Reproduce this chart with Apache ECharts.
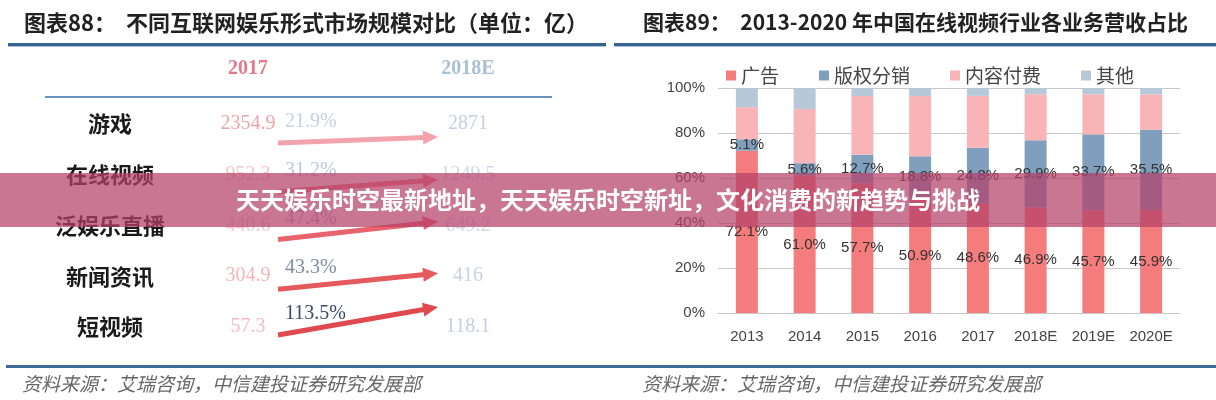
<!DOCTYPE html>
<html><head><meta charset="utf-8">
<script src="https://cdn.jsdelivr.net/npm/echarts@6/dist/echarts.min.js"></script>
<style>html,body{margin:0;padding:0;background:#fff}#c{width:1216px;height:400px}</style>
</head><body><div id="c"></div>
<script>
// ---- data: left table ----
const ROWS = ['游戏', '在线视频', '泛娱乐直播', '新闻资讯', '短视频'];
const V2017 = [2354.9, 952.3, 440.6, 304.9, 57.3];
const V2018E = [2871, 1249.5, 649.2, 416, 118.1];
const GROWTH = [21.9, 31.2, 47.4, 43.3, 113.5];
const TABLE_COLS = ['2017', '', '2018E'];
// ---- data: right chart ----
const YEARS = ['2013', '2014', '2015', '2016', '2017', '2018E', '2019E', '2020E'];
const AD = [72.1, 61.0, 57.7, 50.9, 48.6, 46.9, 45.7, 45.9];
const COPYRIGHT = [5.1, 5.6, 12.7, 18.8, 24.8, 29.9, 33.7, 35.5];
const PAID = [14.3, 24.1, 26.0, 26.7, 23.1, 20.4, 17.8, 15.8];
const OTHER = [8.5, 9.3, 3.6, 3.6, 3.5, 2.8, 2.8, 2.8];
const SERIES_NAMES = ['广告', '版权分销', '内容付费', '其他'];
const Y_TICKS = [0, 20, 40, 60, 80, 100];

// ---- styles ----
const CJK = '"Noto Sans CJK SC", sans-serif';
const SERIF = '"Liberation Serif", "DejaVu Serif", serif';
const SANS = '"Liberation Sans", sans-serif';
const C2017 = ['#e98d97', '#f2b4bb', '#f2bac1', '#eea3ab', '#f0abb3'];
const C2018 = ['#b3c4d8', '#c3d0e0', '#c3d0e0', '#b9c8da', '#b3c4d8'];
const CGROW = ['#c5d1e2', '#bcc8da', '#a9b6ca', '#7d8da6', '#3b4a66'];
const CARROW = ['#f2a3ad', '#ec7a83', '#e8636b', '#e55a5e', '#e04a4e'];
const ARROW_DROP = [19, 17, 14, 13, 8];
const ARROW_RISE = [6, 12, 18, 16, 28];
const BAR_COLORS = ['#f47c7c', '#7f9fbd', '#f8b4b6', '#b7c9d8'];

const chart = echarts.init(document.getElementById('c'));

function arrowItem(params, api) {
  const i = api.value(1);
  const a = api.coord([0, i]);
  const b = api.coord([2, i]);
  const x1 = a[0] + 30, y1 = a[1] + ARROW_DROP[i];
  const x2 = b[0] - 30, y2 = y1 - ARROW_RISE[i];
  const dx = x2 - x1, dy = y2 - y1, L = Math.sqrt(dx * dx + dy * dy);
  const ux = dx / L, uy = dy / L, nx = -uy, ny = ux;
  const hl = 15, hw = 7;
  const bx = x2 - ux * hl, by = y2 - uy * hl;
  return {
    type: 'group',
    children: [
      { type: 'line', shape: { x1: x1, y1: y1, x2: bx + ux * 2, y2: by + uy * 2 },
        style: { stroke: CARROW[i], lineWidth: 5 } },
      { type: 'polygon', shape: { points: [[x2, y2], [bx + nx * hw, by + ny * hw], [bx - nx * hw, by - ny * hw]] },
        style: { fill: CARROW[i] } },
      { type: 'text', style: { text: GROWTH[i].toFixed(1) + '%', x: x1 + 7, y: y1 - 21,
        fill: CGROW[i], fontSize: 20, fontFamily: SERIF, align: 'left', verticalAlign: 'middle' } }
    ]
  };
}

const option = {
  animation: false,
  backgroundColor: '#fff',
  title: [
    { text: '图表88：  不同互联网娱乐形式市场规模对比（单位：亿）', left: 19, top: 7,
      textStyle: { fontSize: 22, fontWeight: 'bold', color: '#222', fontFamily: CJK } },
    { text: '图表89：  2013-2020 年中国在线视频行业各业务营收占比', left: 638, top: 7,
      textStyle: { fontSize: 21, fontWeight: 'bold', color: '#222', fontFamily: CJK } }
  ],
  legend: {
    data: SERIES_NAMES, left: 721, top: 61, icon: 'rect', itemWidth: 10, itemHeight: 10, itemGap: 40,
    textStyle: { fontSize: 19, color: '#444', fontFamily: CJK }
  },
  grid: [
    { left: 248, width: 220, top: 98.6, height: 253.75 },
    { left: 718, right: 36, top: 88, bottom: 87 }
  ],
  xAxis: [
    { gridIndex: 0, type: 'value', min: 0, max: 2, interval: 1, position: 'top',
      axisLine: { show: false }, axisTick: { show: false }, splitLine: { show: false },
      axisLabel: { margin: 20, showMinLabel: true, showMaxLabel: true,
        formatter: v => v === 0 ? '{a|' + TABLE_COLS[0] + '}' : (v === 2 ? '{b|' + TABLE_COLS[2] + '}' : ''),
        rich: {
          a: { fontSize: 20, fontWeight: 'bold', color: '#e27a88', fontFamily: SERIF },
          b: { fontSize: 20, fontWeight: 'bold', color: '#a9bfd6', fontFamily: SERIF }
        } } },
    { gridIndex: 1, type: 'category', data: YEARS,
      axisLine: { lineStyle: { color: '#c8c8c8' } }, axisTick: { show: false },
      axisLabel: { fontSize: 15, color: '#444', margin: 16, fontFamily: SANS } }
  ],
  yAxis: [
    { gridIndex: 0, type: 'category', data: ROWS, inverse: true,
      axisLine: { show: false }, axisTick: { show: false }, splitLine: { show: false },
      axisLabel: { align: 'center', margin: 138, fontSize: 22, fontWeight: 'bold', color: '#1a1a1a', fontFamily: CJK } },
    { gridIndex: 1, type: 'value', min: Y_TICKS[0], max: Y_TICKS[Y_TICKS.length - 1], interval: 20,
      axisLine: { show: false }, axisTick: { show: false },
      splitLine: { lineStyle: { color: '#c8c8c8' } },
      axisLabel: { fontSize: 15, color: '#444', margin: 13, formatter: '{value}%', fontFamily: SANS } }
  ],
  series: [
    { type: 'scatter', xAxisIndex: 0, yAxisIndex: 0, symbolSize: 1, itemStyle: { color: 'rgba(0,0,0,0)' }, silent: true,
      data: V2017.map((v, i) => ({ value: [0, i], label: { color: C2017[i] } })),
      label: { show: true, position: 'inside', fontSize: 20, fontFamily: SERIF,
        formatter: p => String(V2017[p.dataIndex]) } },
    { type: 'scatter', xAxisIndex: 0, yAxisIndex: 0, symbolSize: 1, itemStyle: { color: 'rgba(0,0,0,0)' }, silent: true,
      data: V2018E.map((v, i) => ({ value: [2, i], label: { color: C2018[i] } })),
      label: { show: true, position: 'inside', fontSize: 20, fontFamily: SERIF,
        formatter: p => String(V2018E[p.dataIndex]) } },
    { type: 'custom', xAxisIndex: 0, yAxisIndex: 0, silent: true,
      data: GROWTH.map((g, i) => [1, i]), renderItem: arrowItem },
    { name: SERIES_NAMES[0], type: 'bar', stack: 's', xAxisIndex: 1, yAxisIndex: 1, barWidth: 22,
      itemStyle: { color: BAR_COLORS[0] }, data: AD,
      label: { show: true, position: 'inside', formatter: p => p.value.toFixed(1) + '%', color: '#333', fontSize: 15, fontFamily: SANS } },
    { name: SERIES_NAMES[1], type: 'bar', stack: 's', xAxisIndex: 1, yAxisIndex: 1, barWidth: 22,
      itemStyle: { color: BAR_COLORS[1] }, data: COPYRIGHT,
      label: { show: true, position: 'inside', formatter: p => p.value.toFixed(1) + '%', color: '#333', fontSize: 15, fontFamily: SANS } },
    { name: SERIES_NAMES[2], type: 'bar', stack: 's', xAxisIndex: 1, yAxisIndex: 1, barWidth: 22,
      itemStyle: { color: BAR_COLORS[2] }, data: PAID },
    { name: SERIES_NAMES[3], type: 'bar', stack: 's', xAxisIndex: 1, yAxisIndex: 1, barWidth: 22,
      itemStyle: { color: BAR_COLORS[3] }, data: OTHER }
  ],
  graphic: [
    { type: 'rect', shape: { x: 8, y: 43, width: 598, height: 3 }, style: { fill: '#36638f' }, silent: true },
    { type: 'rect', shape: { x: 8, y: 46, width: 598, height: 1 }, style: { fill: '#a9c2db' }, silent: true },
    { type: 'rect', shape: { x: 614, y: 43, width: 602, height: 3 }, style: { fill: '#36638f' }, silent: true },
    { type: 'rect', shape: { x: 614, y: 46, width: 602, height: 1 }, style: { fill: '#a9c2db' }, silent: true },
    { type: 'rect', shape: { x: 45, y: 96, width: 507, height: 2 }, style: { fill: '#6a93bf' }, silent: true },
    { type: 'rect', shape: { x: 6, y: 365, width: 1210, height: 3 }, style: { fill: '#3d6a96' }, silent: true },
    { type: 'text', left: 22, top: 374, silent: true,
      style: { text: '资料来源：艾瑞咨询，中信建投证券研究发展部', fontSize: 19, fontStyle: 'italic', fill: '#666', fontFamily: CJK } },
    { type: 'text', left: 642, top: 374, silent: true,
      style: { text: '资料来源：艾瑞咨询，中信建投证券研究发展部', fontSize: 19, fontStyle: 'italic', fill: '#666', fontFamily: CJK } },
    { type: 'rect', shape: { x: 0, y: 173, width: 1216, height: 54 }, style: { fill: 'rgba(180,65,105,0.72)' }, silent: true, z: 100 },
    { type: 'text', x: 608, y: 200, silent: true, z: 101,
      style: { text: '天天娱乐时空最新地址，天天娱乐时空新址，文化消费的新趋势与挑战', fontSize: 24, fontWeight: 'bold',
        fill: '#fff', fontFamily: CJK, align: 'center', verticalAlign: 'middle' } }
  ]
};
chart.setOption(option);
</script></body></html>
